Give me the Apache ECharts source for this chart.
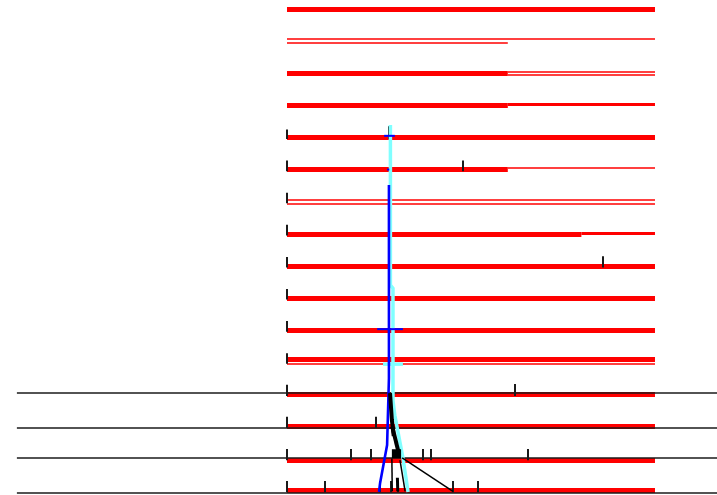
<!DOCTYPE html>
<html>
<head>
<meta charset="utf-8">
<style>
  html, body { margin: 0; padding: 0; background: #fff; }
  #chart { width: 717px; height: 495px; }
</style>
<script src="https://cdn.jsdelivr.net/npm/echarts@6/dist/echarts.min.js"></script>
</head>
<body>
<div id="chart"></div>
<script>
// track positions run 0..100 along each row, rows 0..15 from top to bottom
// red segments: [row, lane offset, start, end, weight]
const redSegments = [
  [0, 0, 0, 100, 'thick'],
  [1, -0.06, 0, 100, 'thin'], [1, 0.05, 0, 60, 'thin'],
  [2, 0, 0, 60, 'thick'], [2, -0.05, 60, 100, 'thin'], [2, 0.05, 60, 100, 'thin'],
  [3, 0, 0, 60, 'thick'], [3, -0.02, 60, 100, 'mid'],
  [4, 0, 0, 100, 'thick'],
  [5, 0, 0, 60, 'thick'], [5, -0.05, 60, 100, 'thin'],
  [6, -0.05, 0, 100, 'thin'], [6, 0.05, 0, 100, 'thin'],
  [7, 0, 0, 80, 'thick'], [7, -0.02, 80, 100, 'mid'],
  [8, 0, 0, 100, 'thick'],
  [9, 0, 0, 100, 'thick'],
  [10, 0, 0, 100, 'thick'],
  [11, -0.1, 0, 100, 'thick'], [11, 0.06, 0, 100, 'thin'],
  [12, 0, 0, 100, 'thick'],
  [13, 0, 0, 100, 'thick'],
  [14, 0.05, 0, 100, 'thick'],
  [15, 0, 0, 100, 'thick']
];

// tick marks: [row, position, height in rows]
const tickMarks = [
  [4, 0, 0.25], [4, 27.7, 0.35],
  [5, 0, 0.28], [5, 47.8, 0.28],
  [6, 0, 0.28], [7, 0, 0.28], [8, 0, 0.28], [8, 85.9, 0.3],
  [9, 0, 0.28], [10, 0, 0.28], [11, 0, 0.28],
  [12, 0, 0.3], [12, 62.0, 0.32],
  [13, 0, 0.3], [13, 24.2, 0.3],
  [14, 0, 0.3], [14, 17.4, 0.3], [14, 22.8, 0.3], [14, 37.0, 0.3], [14, 39.1, 0.3], [14, 65.5, 0.3],
  [15, 0, 0.3], [15, 10.3, 0.3], [15, 25.3, 0.3], [15, 28.3, 0.3], [15, 30.2, 0.3], [15, 45.1, 0.3], [15, 51.9, 0.3]
];

// long black baselines under the last four rows
const baselineRows = [11.96, 13.05, 13.98, 15.07];
const baselineSpan = [-73.4, 116.9];

// vertical traces, [position, row]
const cyanTrace = [[28.1, 3.61], [28.1, 8.6], [28.8, 8.7], [28.8, 12.2], [29.3, 12.65], [31.5, 13.98], [32.9, 15.04]];
const blueTrace = [[27.7, 5.48], [27.7, 11.5], [27.2, 13.58], [25.3, 14.76], [25.0, 15.04]];
const blackTraces = [
  [[28.5, 14.0], [28.6, 15.02]],
  [[30.7, 14.05], [32.1, 15.02]],
  [[31.3, 13.98], [45.1, 15.02]]
];
const blackBlobs = [
  [[28.0, 11.96], [28.5, 12.8], [29.0, 13.3]],
  [[28.6, 13.0], [30.2, 13.75]]
];
const blackBlocks = [
  [[28.5, 13.85], [31.0, 13.85]]
];
const blackBars = [
  [[30.0, 14.6], [30.1, 15.02]]
];
// short error-bar crosses: [row, start, end]
const blueBars = [[3.95, 26.4, 29.3], [9.97, 24.5, 31.5], [5.0, 27.2, 27.8]];
const cyanBars = [[11.06, 26.1, 31.5]];

const widths = { thick: 5, mid: 3, thin: 1.6 };

const chart = echarts.init(document.getElementById('chart'));

const seg = (x1, y1, x2, y2) => ({ coords: [[x1, y1], [x2, y2]] });

const redData = redSegments.map(([row, lane, s, e, w]) => ({
  coords: [[s, row + lane], [e, row + lane]],
  lineStyle: { width: widths[w] }
}));

const blackLayer = (list, width, z) => ({
  type: 'lines', coordinateSystem: 'cartesian2d', polyline: true, z: z,
  data: list.map(c => ({ coords: c })),
  lineStyle: { color: '#000', width: width, opacity: 1 }
});

const option = {
  animation: false,
  grid: { left: 0, right: 0, top: 0, bottom: 0 },
  xAxis: { type: 'value', min: -77.99, max: 116.85, show: false },
  yAxis: { type: 'value', min: -0.28, max: 15.135, inverse: true, show: false },
  series: [
    {
      type: 'lines', coordinateSystem: 'cartesian2d', z: 1,
      data: redData,
      lineStyle: { color: '#ff0000', opacity: 1 }
    },
    {
      type: 'lines', coordinateSystem: 'cartesian2d', z: 2,
      data: baselineRows.map(r => seg(baselineSpan[0], r, baselineSpan[1], r)),
      lineStyle: { color: '#1a1a1a', width: 1.5, opacity: 1 }
    },
    {
      type: 'lines', coordinateSystem: 'cartesian2d', z: 3,
      data: tickMarks.map(([row, p, h]) => seg(p, row + 0.05, p, row - h)),
      lineStyle: { color: '#1a1a1a', width: 2, opacity: 1 }
    },
    {
      type: 'lines', coordinateSystem: 'cartesian2d', polyline: true, z: 4,
      data: [{ coords: cyanTrace }].concat(cyanBars.map(([r, s, e]) => seg(s, r, e, r))),
      lineStyle: { color: '#80ffff', width: 3.5, opacity: 1 }
    },
    {
      type: 'lines', coordinateSystem: 'cartesian2d', polyline: true, z: 5,
      data: [{ coords: blueTrace, lineStyle: { width: 2.6 } }]
        .concat(blueBars.map(([r, s, e]) => seg(s, r, e, r))),
      lineStyle: { color: '#0000ff', width: 2, opacity: 1 }
    },
    blackLayer(blackTraces, 1.5, 6),
    blackLayer(blackBlobs, 4, 6),
    blackLayer(blackBlocks, 9, 6),
    blackLayer(blackBars, 3, 6)
  ]
};

chart.setOption(option);
</script>
</body>
</html>
